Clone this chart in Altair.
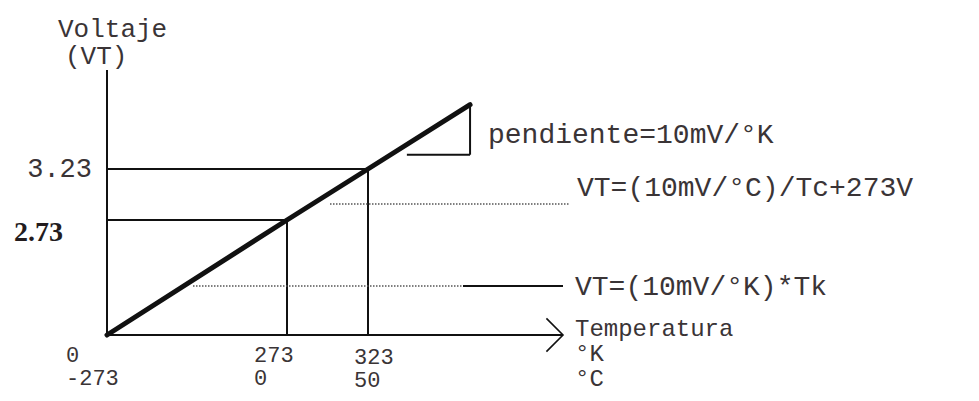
import altair as alt
import pandas as pd

# ---------------- data ----------------
kelvin_line = [0, 273, 323, 386]
volts_line = [0, 2.73, 3.23, 3.86]
kelvin_ticks = [0, 273, 323]
celsius_ticks = [-273, 0, 50]
volt_ticks = [2.73, 3.23]
slope_kelvin = [347, 386]
slope_volts = [3.37, 3.86]
y_title = ["Voltaje", "(VT)"]
x_title = ["Temperatura", "°K", "°C"]
notes = ["pendiente=10mV/°K", "VT=(10mV/°C)/Tc+273V", "VT=(10mV/°K)*Tk"]

# ---------------- tables built from the arrays ----------------
line_df = pd.DataFrame({"K": kelvin_line, "V": volts_line})
origin_df = pd.DataFrame({"K": [kelvin_ticks[0]], "V": [0]})
ref_rows = []
for k, v in zip(kelvin_ticks[1:], volt_ticks):
    ref_rows.append({"K": 0, "K2": k, "V": v, "V2": v})
    ref_rows.append({"K": k, "K2": k, "V": 0, "V2": v})
ref_df = pd.DataFrame(ref_rows)
slope_df = pd.DataFrame([
    {"K": slope_kelvin[0], "K2": slope_kelvin[1], "V": slope_volts[0], "V2": slope_volts[0]},
    {"K": slope_kelvin[1], "K2": slope_kelvin[1], "V": slope_volts[0], "V2": slope_volts[1]},
])

# ---------------- styling ----------------
MONO = "Liberation Mono"
TXT = "#3a3436"
INK = "#111111"

x_scale = alt.Scale(domain=kelvin_ticks, range=[99, 279, 360], zero=False, nice=False)
y_scale = alt.Scale(domain=[0] + volt_ticks, range=[327, 212, 161], zero=False, nice=False)


def X(field):
    return alt.X(field, type="quantitative", scale=x_scale, axis=None)


def Y(field):
    return alt.Y(field, type="quantitative", scale=y_scale, axis=None)


layers = []

# axes
layers.append(alt.Chart(origin_df).mark_rule(color=INK, strokeWidth=2).encode(
    x=X("K"), y=Y("V"), y2=alt.value(62)))
layers.append(alt.Chart(origin_df).mark_rule(color=INK, strokeWidth=2).encode(
    x=X("K"), x2=alt.value(555), y=Y("V")))
layers.append(alt.Chart(origin_df).mark_point(
    shape="M-1,-1L0,0L-1,1", filled=False, size=1100, color=INK, strokeWidth=1.6, opacity=1
).encode(x=alt.value(555), y=Y("V")))

# reference lines
layers.append(alt.Chart(ref_df).mark_rule(color=INK, strokeWidth=2).encode(
    x=X("K"), x2="K2:Q", y=Y("V"), y2="V2:Q"))

# slope triangle
layers.append(alt.Chart(slope_df).mark_rule(color=INK, strokeWidth=2).encode(
    x=X("K"), x2="K2:Q", y=Y("V"), y2="V2:Q"))

# main line
layers.append(alt.Chart(line_df).mark_line(color=INK, strokeWidth=5, strokeCap="round").encode(
    x=X("K"), y=Y("V")))

# leader lines
layers.append(alt.Chart(origin_df).mark_rule(color="#555555", strokeWidth=1.5, strokeDash=[1.5, 1.5]).encode(
    x=alt.value(322), x2=alt.value(562), y=alt.value(196)))
layers.append(alt.Chart(origin_df).mark_rule(color="#555555", strokeWidth=1.5, strokeDash=[1.5, 1.5]).encode(
    x=alt.value(185), x2=alt.value(455), y=alt.value(278)))
layers.append(alt.Chart(origin_df).mark_rule(color=INK, strokeWidth=2).encode(
    x=alt.value(455), x2=alt.value(555), y=alt.value(278)))

# x tick labels: kelvin on the first line, celsius on the second
col_dx = [-41, -33, -14]
col_dy = [27, 27, 29]
for k, c, dx, dy in zip(kelvin_ticks, celsius_ticks, col_dx, col_dy):
    df = pd.DataFrame({"K": [k], "V": [0], "t": [f"{k}\n{c}"]})
    layers.append(alt.Chart(df).mark_text(
        align="left", baseline="alphabetic", font=MONO, fontSize=22, color=TXT,
        dx=dx, dy=dy, lineBreak="\n", lineHeight=23
    ).encode(x=X("K"), y=Y("V"), text="t:N"))

# y tick labels
df323 = pd.DataFrame({"K": [0], "V": [volt_ticks[1]], "t": [f"{volt_ticks[1]:.2f}"]})
layers.append(alt.Chart(df323).mark_text(
    align="right", baseline="middle", font=MONO, fontSize=27, color=TXT, dx=-15, dy=0
).encode(x=X("K"), y=Y("V"), text="t:N"))
df273 = pd.DataFrame({"K": [0], "V": [volt_ticks[0]], "t": [f"{volt_ticks[0]:.2f}"]})
layers.append(alt.Chart(df273).mark_text(
    align="right", baseline="middle", font="Liberation Serif", fontWeight="bold", fontSize=28,
    color="#231c1e", dx=-44, dy=13
).encode(x=X("K"), y=Y("V"), text="t:N"))

# titles and annotations (pixel layout)
text_layout = [
    (y_title[0], 50, 21, 26),
    (y_title[1], 57, 48, 26),
    (notes[0], 480, 127, 28),
    (notes[1], 569, 180, 28),
    (notes[2], 567, 279, 28),
]
for t, px, py, fs in text_layout:
    layers.append(alt.Chart(pd.DataFrame({"t": [t]})).mark_text(
        align="left", baseline="middle", font=MONO, fontSize=fs, color=TXT
    ).encode(x=alt.value(px), y=alt.value(py), text="t:N"))

# x-axis title block
layers.append(alt.Chart(pd.DataFrame({"t": ["\n".join(x_title)]})).mark_text(
    align="left", baseline="alphabetic", font=MONO, fontSize=24, color=TXT,
    lineBreak="\n", lineHeight=25
).encode(x=alt.value(567), y=alt.value(328), text="t:N"))

chart = alt.layer(*layers).properties(
    width=963, height=385, autosize=alt.AutoSizeParams(type="none"), padding=0,
    background="white"
).configure_view(stroke=None)

chart.save("out.html", embed_options={"renderer": "svg", "actions": False})
